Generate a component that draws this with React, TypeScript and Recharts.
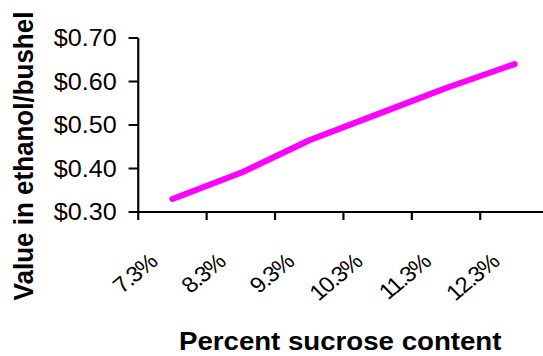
import { LineChart, Line, XAxis, YAxis, Label } from 'recharts'

const sucrose = ['7.3%', '8.3%', '9.3%', '10.3%', '11.3%', '12.3%']
const valuePerBushel = [0.33, 0.39, 0.465, 0.525, 0.585, 0.64]
const yTicks = [0.3, 0.4, 0.5, 0.6, 0.7]

const data = sucrose.map((s, i) => ({ sucrose: s, value: valuePerBushel[i] }))

const FONT = '"Liberation Sans", Arial, sans-serif'

const CHART_W = 510
const Y_AXIS_W = 128
const RIGHT = 2
// one category slot; points sit in the middle of each slot, tick marks on the edges
const SLOT = (CHART_W - Y_AXIS_W - RIGHT) / sucrose.length

const SlantTick = (props: any) => {
  const { x, y, payload } = props
  const edge = x - SLOT / 2
  return (
    <g>
      <line x1={edge} y1={y - 10} x2={edge} y2={y - 2} stroke="#000" strokeWidth={2} />
      <text
        transform={`translate(${x - 13},${y + 42}) rotate(-42)`}
        textAnchor="end"
        fontFamily={FONT}
        fontSize={22}
        letterSpacing={-1.2}
        fill="#000"
      >
        {payload.value}
      </text>
    </g>
  )
}

export default function App() {
  return (
    <div style={{ position: 'absolute', left: 0, top: 0, width: 543, height: 356, overflow: 'hidden', background: '#fff' }}>
      {/* whole figure is a little wider than tall */}
      <div style={{ transform: 'scaleX(1.08)', transformOrigin: '0 0' }}>
        <LineChart width={CHART_W} height={356} data={data} margin={{ top: 38, right: RIGHT, bottom: 0, left: 0 }}>
          <XAxis
            dataKey="sucrose"
            height={144}
            padding={{ left: SLOT / 2, right: SLOT / 2 }}
            tickSize={8}
            tickMargin={2}
            stroke="#000"
            strokeWidth={2}
            tickLine={false}
            tick={<SlantTick />}
            interval={0}
          >
            <Label
              content={() => (
                <text x={315} y={350} textAnchor="middle" fontFamily={FONT} fontSize={25.6} fontWeight="bold" fill="#000">
                  Percent sucrose content
                </text>
              )}
            />
          </XAxis>
          <YAxis
            width={Y_AXIS_W}
            domain={[0.3, 0.7]}
            ticks={yTicks}
            tickSize={9}
            tickMargin={11}
            stroke="#000"
            strokeWidth={2}
            tickLine={{ stroke: '#000', strokeWidth: 2 }}
            tick={{ fill: '#000', fontSize: 23.3, fontFamily: FONT }}
            tickFormatter={(v: number) => `$${v.toFixed(2)}`}
          >
            <Label
              content={() => (
                <text
                  transform="translate(30.3,156) rotate(-90)"
                  textAnchor="middle"
                  fontFamily={FONT}
                  fontSize={26}
                  fontWeight="bold"
                  fill="#000"
                >
                  Value in ethanol/bushel
                </text>
              )}
            />
          </YAxis>
          <Line
            type="linear"
            dataKey="value"
            stroke="#ff00ff"
            strokeWidth={6}
            strokeLinecap="round"
            strokeLinejoin="round"
            dot={false}
            activeDot={false}
            isAnimationActive={false}
          />
        </LineChart>
      </div>
    </div>
  )
}
